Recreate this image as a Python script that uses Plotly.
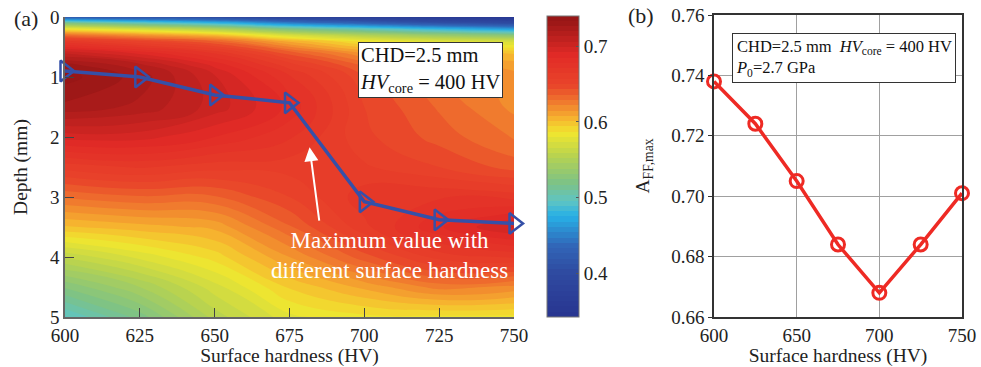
import plotly.graph_objects as go

# ---------------- data ----------------
hv = [600, 625, 650, 675, 700, 725, 750]
depth = [0, 0.1, 0.2, 0.3, 0.4, 0.6, 0.8, 1.0, 1.5, 2.0, 2.5, 3.0, 3.5, 4.0, 4.5, 5.0]
col600 = [0.42, 0.52, 0.585, 0.63, 0.665, 0.705, 0.73, 0.737, 0.725, 0.695, 0.66, 0.63, 0.60, 0.56, 0.525, 0.495]
col625 = [0.41, 0.50, 0.57, 0.615, 0.65, 0.69, 0.715, 0.724, 0.718, 0.695, 0.665, 0.635, 0.605, 0.575, 0.545, 0.52]
col650 = [0.40, 0.48, 0.55, 0.60, 0.635, 0.67, 0.69, 0.70, 0.703, 0.685, 0.66, 0.635, 0.61, 0.59, 0.57, 0.555]
col675 = [0.38, 0.45, 0.52, 0.57, 0.605, 0.64, 0.66, 0.672, 0.683, 0.672, 0.66, 0.65, 0.635, 0.615, 0.595, 0.578]
col700 = [0.37, 0.43, 0.50, 0.55, 0.585, 0.615, 0.635, 0.645, 0.65, 0.652, 0.658, 0.668, 0.662, 0.64, 0.61, 0.585]
col725 = [0.36, 0.41, 0.48, 0.535, 0.575, 0.605, 0.62, 0.628, 0.635, 0.64, 0.65, 0.67, 0.684, 0.66, 0.625, 0.585]
col750 = [0.35, 0.40, 0.465, 0.525, 0.57, 0.60, 0.612, 0.618, 0.62, 0.628, 0.64, 0.668, 0.70, 0.665, 0.62, 0.585]

max_depth = [0.9, 1.0, 1.3, 1.43, 3.08, 3.38, 3.44]
aff_max = [0.738, 0.724, 0.705, 0.684, 0.668, 0.684, 0.701]

cbar_ticks = [0.4, 0.5, 0.6, 0.7]
x_ticks_a = [600, 625, 650, 675, 700, 725, 750]
y_ticks_a = [0, 1, 2, 3, 4, 5]
x_ticks_b = [600, 650, 700, 750]
y_ticks_b = [0.66, 0.68, 0.70, 0.72, 0.74, 0.76]

cols = [col600, col625, col650, col675, col700, col725, col750]
z = [[c[i] for c in cols] for i in range(len(depth))]

W, H = 981, 367
def px(x):
    return x / W
def py(y):
    return 1 - y / H

FONT = "Liberation Serif"

jet = [
    [0.00, "#283590"], [0.147, "#2f4aa0"], [0.24, "#3166b8"], [0.34, "#27b0e6"],
    [0.39, "#5ec4c4"], [0.45, "#7cc287"], [0.54, "#b6d251"], [0.62, "#f0e62f"],
    [0.67, "#f6b32f"], [0.72, "#f07e2e"], [0.78, "#e9452a"], [0.88, "#e22b27"],
    [1.00, "#981616"],
]

fig = go.Figure()

fig.add_trace(go.Contour(
    x=hv, y=depth, z=z, xaxis="x", yaxis="y",
    colorscale=jet, zmin=0.342, zmax=0.740,
    contours=dict(start=0.342, end=0.742, size=0.007, coloring="fill", showlines=False),
    line=dict(width=0, smoothing=1.3),
    colorbar=dict(
        x=px(547), xanchor="left", y=py(166.5), yanchor="middle",
        len=301, lenmode="pixels", thickness=32, thicknessmode="pixels",
        xpad=0, ypad=0, outlinewidth=1, outlinecolor="#777",
        tickvals=cbar_ticks, ticktext=[f"{v:.1f}" for v in cbar_ticks],
        ticks="inside", ticklen=3, tickcolor="#555",
        tickfont=dict(family=FONT, size=19, color="#222"),
    ),
    hoverinfo="skip",
))

fig.add_trace(go.Scatter(
    x=hv, y=max_depth, xaxis="x", yaxis="y", mode="lines+markers",
    line=dict(color="#3550a8", width=3.5),
    marker=dict(symbol="triangle-right-open", size=18, color="#3550a8", line=dict(width=2.5)),
    cliponaxis=False, showlegend=False,
))

fig.add_trace(go.Scatter(
    x=hv, y=aff_max, xaxis="x2", yaxis="y2", mode="lines+markers",
    line=dict(color="#ee2a24", width=3.5),
    marker=dict(symbol="circle-open", size=13, color="#ee2a24", line=dict(width=3)),
    cliponaxis=False, showlegend=False,
))

axis_font = dict(family=FONT, size=19, color="#222")
title_font = dict(family=FONT, size=19.5, color="#222")

fig.update_layout(
    width=W, height=H, margin=dict(l=0, r=0, t=0, b=0),
    paper_bgcolor="white", plot_bgcolor="white",
    font=dict(family=FONT, color="#222"),
    showlegend=False,
    xaxis=dict(
        domain=[px(65), px(514)], range=[600, 750], anchor="y", automargin=False,
        tickvals=x_ticks_a, ticks="inside", ticklen=9, tickcolor="#444",
        showline=True, linecolor="#666", linewidth=1.5, showgrid=False, zeroline=False,
        tickfont=axis_font,
        title=dict(text="Surface hardness (HV)", font=title_font, standoff=1),
    ),
    yaxis=dict(
        domain=[py(317), py(17)], range=[5, 0], anchor="x", automargin=False,
        tickvals=y_ticks_a, ticks="inside", ticklen=9, tickcolor="#444",
        showline=True, linecolor="#666", linewidth=1.5, showgrid=False, zeroline=False,
        tickfont=axis_font,
        title=dict(text="Depth (mm)", font=title_font, standoff=17),
    ),
    xaxis2=dict(
        domain=[px(714), px(962)], range=[600, 750], anchor="y2", automargin=False,
        tickvals=x_ticks_b, ticks="", showline=True, mirror=True,
        linecolor="#333", linewidth=1.5, showgrid=True, gridcolor="#a0a0a0", gridwidth=1,
        zeroline=False, tickfont=axis_font,
        title=dict(text="Surface hardness (HV)", font=title_font, standoff=1),
    ),
    yaxis2=dict(
        domain=[py(317), py(15)], range=[0.66, 0.76], anchor="x2", automargin=False,
        tickvals=y_ticks_b, ticktext=[f"{v:.2f}" for v in y_ticks_b],
        ticks="outside", ticklen=4, tickcolor="#333", showline=True, mirror=True,
        linecolor="#333", linewidth=1.5, showgrid=True, gridcolor="#a0a0a0", gridwidth=1,
        zeroline=False, tickfont=axis_font,
        title=dict(text="A<sub>FF,max</sub>", font=title_font, standoff=16),
    ),
)

ann = []
ann.append(dict(text="(a)", x=px(12), y=py(18), xref="paper", yref="paper",
                xanchor="left", yanchor="middle", showarrow=False,
                font=dict(family=FONT, size=22, color="#222")))
ann.append(dict(text="(b)", x=px(626), y=py(16), xref="paper", yref="paper",
                xanchor="left", yanchor="middle", showarrow=False,
                font=dict(family=FONT, size=22, color="#222")))
ann.append(dict(text="CHD=2.5 mm<br><i>HV</i><sub>core</sub> = 400 HV",
                x=px(358), y=py(42), xref="paper", yref="paper",
                xanchor="left", yanchor="top", align="left", showarrow=False,
                bgcolor="white", bordercolor="#333", borderwidth=1, borderpad=1,
                font=dict(family=FONT, size=20.5, color="#111")))
ann.append(dict(text="CHD=2.5 mm  <i>HV</i><sub>core</sub> = 400 HV<br><i>P</i><sub>0</sub>=2.7 GPa",
                x=px(732), y=py(33), xref="paper", yref="paper",
                xanchor="left", yanchor="top", align="left", showarrow=False,
                bgcolor="white", bordercolor="#333", borderwidth=1, borderpad=3,
                font=dict(family=FONT, size=16.5, color="#111")))
ann.append(dict(text="Maximum value with<br>different surface hardness",
                x=px(389), y=py(255), xref="paper", yref="paper",
                xanchor="center", yanchor="middle", align="center", showarrow=False,
                font=dict(family=FONT, size=23, color="white")))
ann.append(dict(text="", x=681.7, y=2.17, xref="x", yref="y",
                ax=685, ay=3.42, axref="x", ayref="y",
                showarrow=True, arrowhead=2, arrowsize=1.4, arrowwidth=2, arrowcolor="white"))
fig.update_layout(annotations=ann)

fig.write_html("out.html")
